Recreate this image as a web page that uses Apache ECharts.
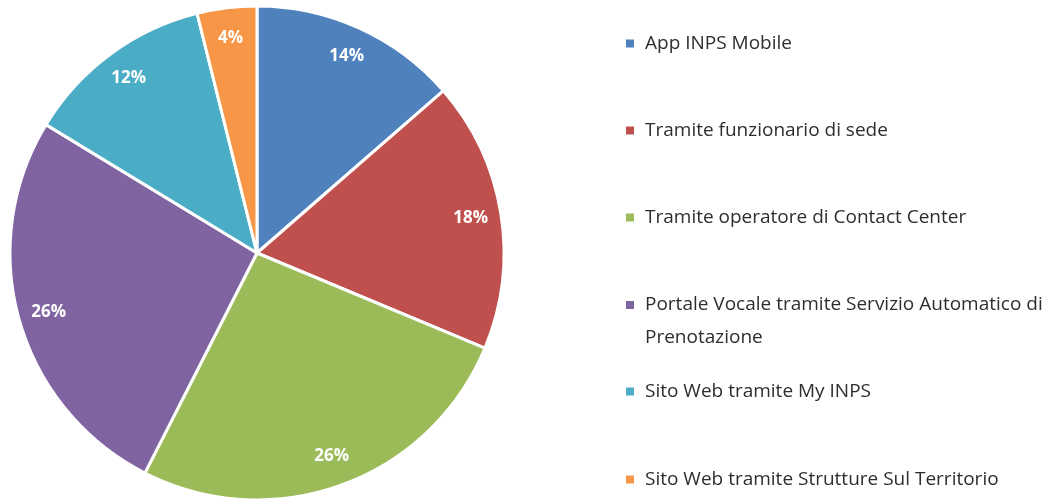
<!DOCTYPE html>
<html>
<head>
<meta charset="utf-8">
<script src="https://cdn.jsdelivr.net/npm/echarts@6/dist/echarts.min.js"></script>
<style>
html,body{margin:0;padding:0;background:#fff;}
#c{width:1056px;height:502px;}
</style>
</head>
<body>
<div id="c"></div>
<script>
const categories = [
  'App INPS Mobile',
  'Tramite funzionario di sede',
  'Tramite operatore di Contact Center',
  'Portale Vocale tramite Servizio Automatico di Prenotazione',
  'Sito Web tramite My INPS',
  'Sito Web tramite Strutture Sul Territorio'
];
const values = [13.6, 17.7, 26.2, 26.2, 12.4, 3.9];
const colors = ['#4F81BD', '#C0504D', '#9BBB59', '#8064A2', '#4BACC6', '#F79646'];
const legendLabels = [
  'App INPS Mobile',
  'Tramite funzionario di sede',
  'Tramite operatore di Contact Center',
  '\nPortale Vocale tramite Servizio Automatico di\nPrenotazione',
  'Sito Web tramite My INPS',
  'Sito Web tramite Strutture Sul Territorio'
];

const FONT = '"Open Sans", "Noto Sans", sans-serif';
const iconCenters = [44, 131, 218, 312, 392, 480];

const data = categories.map((n, i) => ({ name: n, value: values[i], itemStyle: { color: colors[i] } }));

const legends = categories.map((n, i) => {
  const lines = legendLabels[i].split('\n').length;
  const lh = lines > 1 ? 33 : 20;
  const boxH = lh * lines;
  const top = iconCenters[i] - boxH / 2;
  return {
    data: [n],
    left: 624,
    top: top,
    orient: 'vertical',
    padding: 0,
    itemWidth: 10,
    itemHeight: 10,
    itemGap: 0,
    icon: 'rect',
    selectedMode: false,
    formatter: () => '{t|' + legendLabels[i].split('\n').join('}\n{t|') + '}',
    textStyle: {
      rich: {
        t: {
          fontFamily: FONT,
          fontSize: 19,
          color: '#2e2e2e',
          lineHeight: lh,
          padding: [0, 0, 0, 5]
        }
      }
    }
  };
});

const chart = echarts.init(document.getElementById('c'), null, { renderer: 'canvas' });
chart.setOption({
  animation: false,
  color: colors,
  legend: legends,
  series: [
    {
      type: 'pie',
      center: [257, 253],
      radius: [0, 247],
      startAngle: 90,
      clockwise: true,
      data: data,
      itemStyle: { borderColor: '#ffffff', borderWidth: 3 },
      label: { show: false },
      labelLine: { show: false }
    },
    {
      type: 'pie',
      silent: true,
      center: [257, 253],
      radius: [180, 247],
      startAngle: 90,
      clockwise: true,
      data: categories.map((n, i) => ({ name: n, value: values[i] })),
      itemStyle: { color: 'rgba(0,0,0,0)', borderWidth: 0 },
      label: {
        show: true,
        position: 'inside',
        formatter: p => Math.round(p.value) + '%',
        color: '#ffffff',
        fontFamily: FONT,
        fontWeight: 'bold',
        fontSize: 17
      },
      labelLine: { show: false }
    }
  ]
});
</script>
</body>
</html>
